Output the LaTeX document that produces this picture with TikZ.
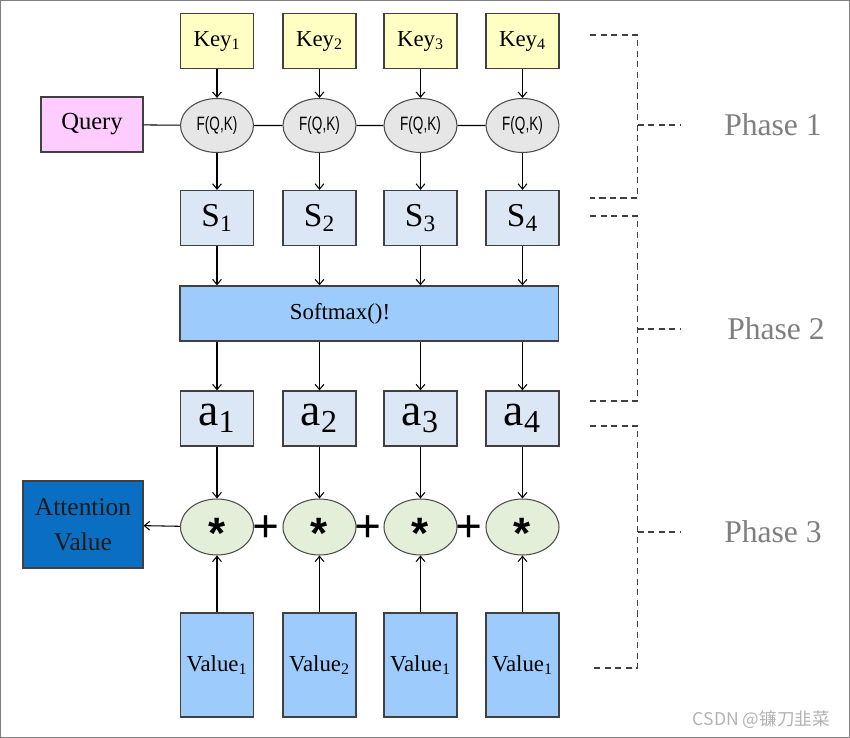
\documentclass[tikz,border=0pt]{standalone}
\usepackage{fontspec}
\setmainfont{Liberation Serif}
\newfontfamily\fqkfont{Liberation Sans}
\newfontfamily\cjk{Noto Sans CJK SC}
\usepackage{tikz}
\usetikzlibrary{arrows.meta}
\usetikzlibrary{shapes.geometric}
\definecolor{keyc}{HTML}{FFFFC4}
\definecolor{queryc}{HTML}{FFCCFF}
\definecolor{fgray}{HTML}{E6E6E6}
\definecolor{sboxc}{HTML}{DCE7F5}
\definecolor{vblue}{HTML}{9DCBFB}
\definecolor{starc}{HTML}{E4EFDA}
\definecolor{attc}{HTML}{0A6FC2}
\definecolor{phasec}{HTML}{7F7F7F}

\begin{document}
\begin{tikzpicture}[x=0.02cm,y=-0.02cm,>={Straight Barb[length=3pt,width=5pt]},
        box/.style={draw=black!75,line width=0.7pt,inner sep=0pt,minimum width=1.46cm,minimum height=1.1cm},
        oval/.style={ellipse,draw=black!70,line width=0.6pt,inner sep=0pt,minimum width=1.46cm,minimum height=1.08cm},
        arr/.style={->,line width=0.6pt},
        bracket/.style={black!75,line width=0.8pt,dash pattern=on 3.5pt off 2.5pt}]
        \useasboundingbox (0,0) rectangle (850,738);
        \draw[gray,line width=1pt] (0.5,0.5) rectangle (849.5,737.5);

        \node[box,fill=queryc,minimum width=2.04cm,font=\fontsize{14}{16}\selectfont] (query) at (92,124.5) {Query};
        \node[box,fill=vblue,minimum width=7.57cm] (soft) at (369.3,313.5) {};
        \node[font=\fontsize{13}{15}\selectfont] (softtxt) at (340,313.5) {Softmax()!};
        \node[box,fill=attc,text=black!90,minimum width=2.4cm,minimum height=1.74cm,align=center,
                font=\fontsize{14.5}{20}\selectfont] (att) at (83,524.5) {Attention\\Value};

        \foreach \i/\x/\v in {1/217/1,2/319.5/2,3/420.5/1,4/522.5/1} {
                \node[box,fill=keyc,font=\fontsize{13}{15}\selectfont] (k\i) at (\x,41) {Key\textsubscript{\i}};
                \node[oval,fill=fgray,font=\fqkfont\fontsize{11}{13}\selectfont] (f\i) at (\x,125.5) {\scalebox{0.7}[1]{F(Q,K)}};
                \node[box,fill=sboxc,font=\fontsize{19}{22}\selectfont] (s\i) at (\x,218) {S\textsubscript{\i}};
                \node[box,fill=sboxc,font=\fontsize{26}{28}\selectfont] (a\i) at (\x,418.5) {a\textsubscript{\i}};
                \node[oval,fill=starc,minimum height=1.12cm,font=\fqkfont\bfseries\fontsize{25}{27}\selectfont] (m\i) at (\x,527) {\raisebox{-0.5em}[0pt][0pt]{*}};
                \node[box,fill=vblue,minimum height=2.08cm,font=\fontsize{13}{15}\selectfont] (v\i) at (\x,665) {Value\textsubscript{\v}};
                \draw[arr] (k\i) -- (f\i);
                \draw[arr] (f\i) -- (s\i);
                \draw[arr] (s\i) -- (s\i |- soft.north);
                \draw[arr] (a\i |- soft.south) -- (a\i);
                \draw[arr] (a\i) -- (m\i);
                \draw[arr] (v\i) -- (m\i);
        }
        \draw[line width=0.6pt] (query) -- (f1) -- (f2) -- (f3) -- (f4);
        \draw[arr] (m1) -- (att);

        % plus signs between the products
        \foreach \j/\x in {1/266,2/368.5,3/469.5}
                \node[font=\bfseries\fontsize{27}{29}\selectfont] (plus\j) at (\x,529) {+};

        % phase brackets
        \foreach \t/\b/\m/\n/\px in {35/198/125/1/773,216/401/329/2/776,426/668/532/3/773} {
                \draw[bracket] (590,\t) -- (637.5,\t) -- (637.5,\b) -- (590,\b);
                \draw[bracket] (637.5,\m) -- (680,\m);
                \node[text=phasec,font=\fontsize{18}{20}\selectfont] (phase\n) at (\px,\m) {Phase \n};
        }

        \node[text=black!30,anchor=east,font=\cjk\fontsize{10}{12}\selectfont] (mark) at (836,720) {CSDN @镰刀韭菜};
\end{tikzpicture}
\end{document}
